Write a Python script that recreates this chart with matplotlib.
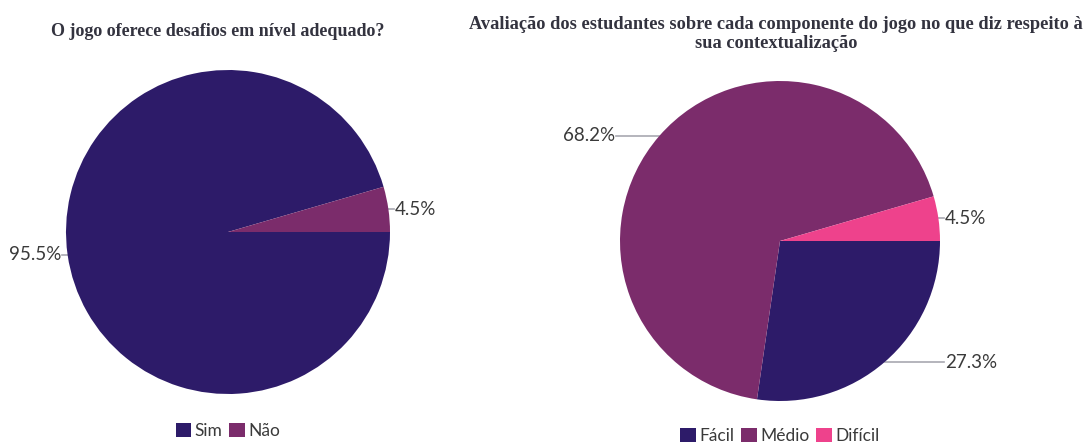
import numpy as np
import matplotlib
matplotlib.use("Agg")
import matplotlib.pyplot as plt
from matplotlib.patches import Patch

# data
LEFT_TITLE = "O jogo oferece desafios em nível adequado?"
LEFT_LABELS = ["Sim", "Não"]
LEFT_VALUES = [95.5, 4.5]

RIGHT_TITLE = "Avaliação dos estudantes sobre cada componente do jogo no que diz respeito à\nsua contextualização"
RIGHT_LABELS = ["Fácil", "Médio", "Difícil"]
RIGHT_VALUES = [27.3, 68.2, 4.5]

# style
W, H = 1088, 444
COLORS = ["#2D1B69", "#7B2C6B", "#EE428C"]
LABEL_FONT = "Lato"
TITLE_FONT = "Liberation Serif"
TITLE_COLOR = "#33333F"
TEXT_COLOR = "#3A3A3A"
LINE_COLOR = "#A8A8B0"

plt.rcParams["font.family"] = [LABEL_FONT, "DejaVu Sans"]

fig = plt.figure(figsize=(W / 100, H / 100), dpi=100)
ax = fig.add_axes([0, 0, 1, 1])


def draw_pie(values, cx, cy, r, colors):
    wedges, _ = ax.pie(values, colors=colors, startangle=0, counterclock=False,
                       center=(cx, cy), radius=r, frame=True,
                       wedgeprops={"linewidth": 0})
    for w, v in zip(wedges, values):
        mid = np.deg2rad((w.theta1 + w.theta2) / 2)
        ex, ey = cx + r * np.cos(mid), cy + r * np.sin(mid)
        side = 1 if np.cos(mid) >= 0 else -1
        tx = cx + side * (r + 4)
        ax.plot([ex, tx], [ey, ey], color=LINE_COLOR, lw=1.2, zorder=0)
        ax.text(tx + side * 1, ey, f"{v:.1f}%", ha="left" if side > 0 else "right",
                va="center", fontsize=13.5, color=TEXT_COLOR)
    return wedges


draw_pie(LEFT_VALUES, 228, H - 232, 162, COLORS[:2])
draw_pie(RIGHT_VALUES, 780, H - 241, 160, COLORS)
ax.set_xlim(0, W)
ax.set_ylim(0, H)
ax.set_aspect("equal")
ax.axis("off")

fig.text(218 / W, 1 - 31 / H, LEFT_TITLE, ha="center", va="center",
         fontsize=13, fontweight="bold", family=TITLE_FONT, color=TITLE_COLOR)
fig.text(776 / W, 1 - 34 / H, RIGHT_TITLE, ha="center", va="center",
         fontsize=13.2, fontweight="bold", family=TITLE_FONT, color=TITLE_COLOR,
         linespacing=1.2)


def add_legend(labels, colors, x, y):
    handles = [Patch(facecolor=c, edgecolor="none") for c in colors]
    fig.legend(handles, labels, loc="center", bbox_to_anchor=(x / W, 1 - y / H),
               ncol=len(labels), frameon=False, fontsize=12.5, handlelength=0.9,
               handleheight=0.9, handletextpad=0.2, columnspacing=0.4,
               labelcolor=TEXT_COLOR)


add_legend(LEFT_LABELS, COLORS[:2], 228, 431)
add_legend(RIGHT_LABELS, COLORS, 780, 436)

fig.savefig("out.png", dpi=100, facecolor="white")
